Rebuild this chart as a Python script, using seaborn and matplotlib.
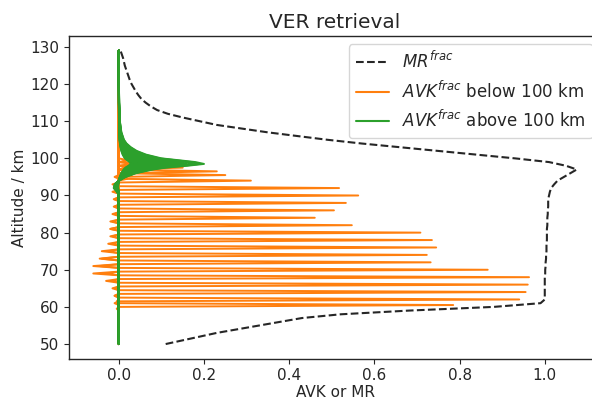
import numpy as np
import pandas as pd
import matplotlib
matplotlib.use("Agg")
import matplotlib.pyplot as plt
from matplotlib.lines import Line2D
import seaborn as sns

# ---------------- data ----------------
mr_alt = list(range(50, 130))
mr_frac = [0.11, 0.15, 0.19, 0.23, 0.28, 0.33, 0.38, 0.43, 0.52, 0.68,   # 50-59
           0.88, 0.99, 1.0, 1.0, 1.0, 1.0, 1.0, 1.0, 1.0, 1.001,          # 60-69
           1.001, 1.002, 1.002, 1.003, 1.003, 1.004, 1.004, 1.004, 1.005, 1.005,  # 70-79
           1.005, 1.005, 1.006, 1.006, 1.006, 1.007, 1.007, 1.008, 1.008, 1.008,  # 80-89
           1.01, 1.012, 1.015, 1.022, 1.03, 1.045, 1.06, 1.075, 1.05, 1.01,       # 90-99
           0.93, 0.84, 0.75, 0.66, 0.57, 0.49, 0.42, 0.35, 0.29, 0.23,           # 100-109
           0.19, 0.15, 0.115, 0.09, 0.075, 0.063, 0.053, 0.046, 0.04, 0.035,     # 110-119
           0.03, 0.026, 0.023, 0.02, 0.017, 0.014, 0.012, 0.01, 0.007, 0.004]    # 120-129

# AVK rows below 100 km: peak altitude, peak value, side-lobe value
avk_low_alt = [60.5, 62, 64, 66, 68, 70, 72, 74, 76, 78, 80, 82, 84, 86, 88, 90, 92,
               94, 95.5, 96.5, 97.5, 98.5]
avk_low_peak = [0.785, 0.94, 0.955, 0.96, 0.963, 0.866, 0.732, 0.723, 0.745, 0.735,
                0.708, 0.547, 0.46, 0.505, 0.533, 0.562, 0.517,
                0.31, 0.25, 0.23, 0.15, 0.08]
avk_low_lobe = [-0.005, -0.01, -0.01, -0.015, -0.03, -0.06, -0.045, -0.04, -0.025, -0.015,
                -0.02, -0.02, -0.015, -0.01, -0.012, -0.01, -0.015,
                -0.01, 0.02, 0.03, 0.03, 0.02]

# AVK rows above 100 km: common normalised profile and the peak of each row
avk_high_rows = list(range(100, 130))
avk_high_peak = [0.20, 0.19, 0.175, 0.16, 0.15, 0.14, 0.13, 0.12, 0.11, 0.105,
                 0.10, 0.095, 0.09, 0.085, 0.08, 0.075, 0.07, 0.066, 0.062, 0.058,
                 0.055, 0.052, 0.049, 0.046, 0.043, 0.04, 0.037, 0.034, 0.031, 0.028]
prof_alt = [50, 90, 91, 92, 93, 94, 95, 96, 97, 97.5, 98, 98.5, 99, 99.5, 100,
            101, 102, 103, 104, 105, 107, 110, 115, 120, 129]
prof_val = [0, 0, -0.02, -0.06, -0.05, 0.0, 0.08, 0.2, 0.4, 0.55, 0.8, 1.0, 0.9, 0.7, 0.5,
            0.32, 0.21, 0.14, 0.09, 0.06, 0.03, 0.012, 0.004, 0.001, 0.0]

# ---------------- build long tables ----------------
rows = []
for k, (a, p, l) in enumerate(zip(avk_low_alt, avk_low_peak, avk_low_lobe)):
    alts = [50, a - 1.5, a - 1, a - 0.5, a, a + 0.5, a + 1, a + 1.5, 129]
    vals = [0, 0, l, 0, p, 0, l, 0, 0]
    for z, v in zip(alts, vals):
        rows.append(dict(kernel=k, alt=z, avk=v))
df_low = pd.DataFrame(rows)

rows = []
for k, (r, p) in enumerate(zip(avk_high_rows, avk_high_peak)):
    for z, v in zip(prof_alt, prof_val):
        rows.append(dict(kernel=k, alt=z, avk=p * v))
df_high = pd.DataFrame(rows)

df_mr = pd.DataFrame(dict(alt=mr_alt, mr=mr_frac))

# ---------------- plot ----------------
sns.set_style("ticks")
plt.rcParams["font.family"] = ["DejaVu Sans"]
plt.rcParams["mathtext.fontset"] = "dejavusans"

fig = plt.figure(figsize=(5.92, 4.01), dpi=100)
ax = fig.add_axes([69 / 592, 1 - 358.7 / 401, (601 - 69) / 592, (358.7 - 36) / 401])

sns.lineplot(data=df_mr, x="mr", y="alt", orient="y", sort=False, ax=ax,
             color="#262626", linestyle=(0, (3.7, 1.6)), lw=1.5, legend=False)
sns.lineplot(data=df_low, x="avk", y="alt", units="kernel", estimator=None,
             orient="y", sort=False, ax=ax, color="#ff7f0e", lw=1.4, legend=False)
sns.lineplot(data=df_high, x="avk", y="alt", units="kernel", estimator=None,
             orient="y", sort=False, ax=ax, color="#2ca02c", lw=1.4, legend=False)

ax.set_xlim(-0.117, 1.132)
ax.set_ylim(46.05, 132.95)
ax.set_xticks([0.0, 0.2, 0.4, 0.6, 0.8, 1.0])
ax.set_yticks([50, 60, 70, 80, 90, 100, 110, 120, 130])
ax.tick_params(labelsize=11, colors="#262626")
for s in ax.spines.values():
    s.set_color("#262626")
    s.set_linewidth(1.0)
ax.set_xlabel("AVK or MR", fontsize=11, labelpad=1)
ax.set_ylabel("Altitude / km", fontsize=11, labelpad=2)
ax.set_title("VER retrieval", fontsize=14.5)

handles = [Line2D([], [], color="#262626", linestyle=(0, (3.7, 1.6)), lw=1.5),
           Line2D([], [], color="#ff7f0e", lw=1.5),
           Line2D([], [], color="#2ca02c", lw=1.5)]
labels = [r"$MR^{frac}$", r"$AVK^{frac}$ below 100 km", r"$AVK^{frac}$ above 100 km"]
ax.legend(handles, labels, loc="upper right", fontsize=12, frameon=True,
          framealpha=0.8, edgecolor="0.8", fancybox=True)

fig.savefig("out.png", dpi=100)
